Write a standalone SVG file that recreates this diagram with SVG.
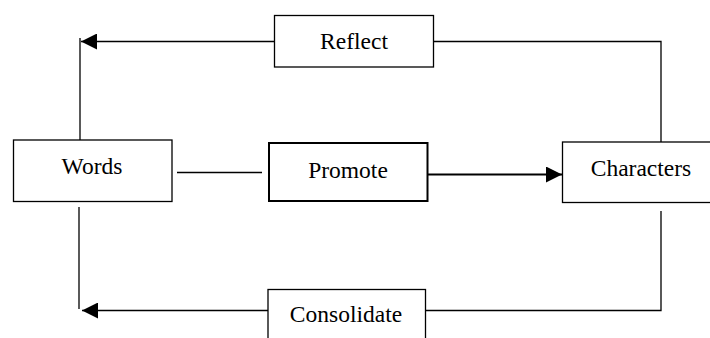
<svg xmlns="http://www.w3.org/2000/svg" width="710" height="338" viewBox="0 0 710 338">
<defs>
<style>
.box{fill:#fff;stroke:#000;stroke-width:1.3}
.bold{stroke-width:2}
.ln{fill:none;stroke:#000;stroke-width:1.3}
.lbl{font-family:"Liberation Serif","Times New Roman",serif;font-size:23.5px;fill:#000;text-anchor:middle}
</style>
<marker id="ah" markerWidth="16" markerHeight="16" refX="16" refY="8" orient="auto" markerUnits="userSpaceOnUse">
<path d="M0,0 L16,8 L0,16 Z" fill="#000"/>
</marker>
</defs>
<rect width="710" height="338" fill="#fff"/>
<g id="connectors">
<path class="ln" d="M274,41.5 H81" marker-end="url(#ah)"/>
<path class="ln" d="M80,140 V38"/>
<path class="ln" d="M433,41.5 H661 V142"/>
<path class="ln" d="M177,172.5 H262"/>
<path class="ln" d="M428,174.5 H562" style="stroke-width:2" marker-end="url(#ah)"/>
<path class="ln" d="M661,211 V310.5 H426"/>
<path class="ln" d="M268,310.5 H82" marker-end="url(#ah)"/>
<path class="ln" d="M79,207 V309"/>
</g>
<g id="reflect">
<rect class="box" x="274.5" y="15.5" width="159" height="51.5"/>
<text class="lbl" x="354" y="48.5">Reflect</text>
</g>
<g id="words">
<rect class="box" x="13.5" y="140" width="158.5" height="61.5"/>
<text class="lbl" x="92" y="174">Words</text>
</g>
<g id="promote">
<rect class="box bold" x="269" y="143" width="158.5" height="58"/>
<text class="lbl" x="348" y="178">Promote</text>
</g>
<g id="characters">
<rect class="box" x="562.5" y="142" width="160" height="60.5"/>
<text class="lbl" x="641" y="176">Characters</text>
</g>
<g id="consolidate">
<rect class="box" x="268" y="289.5" width="157.5" height="60"/>
<text class="lbl" x="346" y="322">Consolidate</text>
</g>
</svg>
